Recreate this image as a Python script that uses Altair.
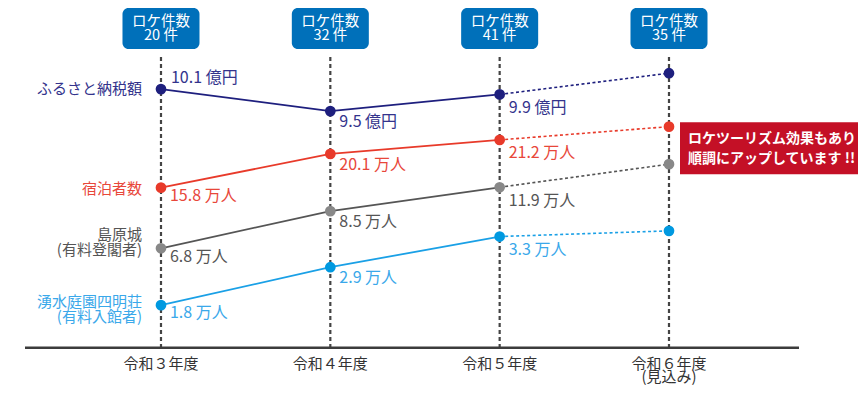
import altair as alt
import pandas as pd

# ---------------- data ----------------
years = ["令和３年度", "令和４年度", "令和５年度", "令和６年度"]
year_sub = ["", "", "", "(見込み)"]
loke_counts = [20, 32, 41, 35]

series = ["ふるさと納税額", "宿泊者数", "島原城", "湧水庭園四明荘"]
series_sub = ["", "", "(有料登閣者)", "(有料入館者)"]
units = ["億円", "万人", "万人", "万人"]

furusato_values = [10.1, 9.5, 9.9, None]
shukuhaku_values = [15.8, 20.1, 21.2, None]
shimabara_values = [6.8, 8.5, 11.9, None]
yusui_values = [1.8, 2.9, 3.3, None]

# schematic trend level of each point as drawn (0-100 index; no common value axis in the chart)
furusato_level = [78.6, 72.8, 77.2, 82.8]
shukuhaku_level = [52.6, 61.5, 65.2, 68.7]
shimabara_level = [36.6, 46.4, 52.7, 58.8]
yusui_level = [21.6, 31.6, 39.7, 41.2]

callout = ["ロケツーリズム効果もあり", "順調にアップしています !!"]

# ---------------- style ----------------
point_colors = ["#1e1f7e", "#e83a2a", "#888888", "#0099e0"]
line_colors = ["#1e1f7e", "#e83a2a", "#555555", "#1aa0e6"]
text_colors = ["#33338c", "#e8473a", "#555555", "#3aa8ea"]
FONT = "Noto Sans CJK JP"

values_all = [furusato_values, shukuhaku_values, shimabara_values, yusui_values]
levels_all = [furusato_level, shukuhaku_level, shimabara_level, yusui_level]

rows = []
for s, name in enumerate(series):
    for i in range(len(years)):
        v = values_all[s][i]
        rows.append({
            "series": name, "s": s, "idx": i, "level": levels_all[s][i],
            "label": "" if v is None else f"{v} {units[s]}",
            "pcolor": point_colors[s], "lcolor": line_colors[s], "tcolor": text_colors[s],
        })
df = pd.DataFrame(rows)
df_years = pd.DataFrame({
    "idx": list(range(len(years))),
    "year": [y + ("\n" + sb if sb else "") for y, sb in zip(years, year_sub)],
    "box": [f"ロケ件数\n{c} 件" for c in loke_counts],
})

XS = alt.Scale(domain=[-0.9035, 4.1162], nice=False, zero=False)
YS = alt.Scale(domain=[0, 100], nice=False, zero=False)
X = alt.X("idx:Q", scale=XS, axis=None)
Y = alt.Y("level:Q", scale=YS, axis=None)
TOP, BOTTOM = 87.07, 10.37

base = alt.Chart(df)
yb = alt.Chart(df_years)
one = alt.Chart(pd.DataFrame({"a": [0]}))

layers = []

# vertical dashed guides
layers.append(yb.transform_calculate(yt=f"{TOP}", ybot=f"{BOTTOM}").mark_rule(
    strokeDash=[4, 3], strokeWidth=2.2, color="#444444").encode(
    x=X, y=alt.Y("yt:Q", scale=YS, axis=None), y2="ybot:Q"))

# baseline
layers.append(one.mark_rule(color="#3c3c3c", strokeWidth=2.5).encode(
    x=alt.value(17), x2=alt.value(791), y=alt.value(339.7)))

# lines
layers.append(base.transform_filter("datum.idx <= 2").mark_line(strokeWidth=1.8).encode(
    x=X, y=Y, detail="series:N", color=alt.Color("lcolor:N", scale=None)))
layers.append(base.transform_filter("datum.idx >= 2").mark_line(strokeWidth=1.6, strokeDash=[3, 2.5]).encode(
    x=X, y=Y, detail="series:N", color=alt.Color("lcolor:N", scale=None)))

# points
layers.append(base.mark_circle(size=115, opacity=1).encode(
    x=X, y=Y, color=alt.Color("pcolor:N", scale=None)))

# value labels
col_dy = {0: 8.3, 1: 10.8, 2: 13.3}
for i, dy in col_dy.items():
    sub = base.transform_filter(f"datum.idx == {i} && datum.label != '' && !(datum.s == 0 && datum.idx == 0)")
    layers.append(sub.mark_text(align="left", baseline="middle", dx=9, dy=dy, fontSize=16, font=FONT).encode(
        x=X, y=Y, text="label:N", color=alt.Color("tcolor:N", scale=None)))
layers.append(base.transform_filter("datum.s == 0 && datum.idx == 0").mark_text(
    align="left", baseline="middle", dx=10, dy=-11, fontSize=16, font=FONT).encode(
    x=X, y=Y, text="label:N", color=alt.Color("tcolor:N", scale=None)))

# series names on the left (one text element each, multi-line where needed)
name_dy = [0, 1.5, -20.5, -10.2]
for s, name in enumerate(series):
    first = base.transform_filter(f"datum.s == {s} && datum.idx == 0")
    if series_sub[s]:
        layers.append(first.mark_text(align="right", baseline="top", dy=name_dy[s], fontSize=15, font=FONT,
                                      lineBreak="\n", lineHeight=15.5, color=text_colors[s]).encode(
            x=alt.value(134), y=Y, text=alt.value(name + "\n" + series_sub[s])))
    else:
        layers.append(first.mark_text(align="right", baseline="middle", dy=name_dy[s], fontSize=15, font=FONT,
                                      color=text_colors[s]).encode(
            x=alt.value(134), y=Y, text=alt.value(name)))

# year labels
layers.append(yb.mark_text(align="center", baseline="top", fontSize=15, font=FONT, color="#333333",
                           lineBreak="\n", lineHeight=13).encode(
    x=X, y=alt.value(349.4), text="year:N"))

# top boxes
layers.append(yb.transform_calculate(x1="datum.idx - 0.2274", x2="datum.idx + 0.2274").mark_rect(
    cornerRadius=6, color="#0070ba").encode(
    x=alt.X("x1:Q", scale=XS, axis=None), x2="x2:Q", y=alt.value(0), y2=alt.value(41)))
layers.append(yb.mark_text(align="center", baseline="top", fontSize=14.5, font=FONT, color="white",
                           lineBreak="\n", lineHeight=13.6).encode(
    x=X, y=alt.value(7.4), text="box:N"))

# callout
layers.append(one.mark_rect(color="#c41026").encode(
    x=alt.value(672), x2=alt.value(852), y=alt.value(114.3), y2=alt.value(166.3)))
layers.append(one.mark_text(align="left", baseline="top", fontSize=14, fontWeight="bold",
                            font=FONT, color="white", lineBreak="\n", lineHeight=20).encode(
    x=alt.value(680), y=alt.value(124.3), text=alt.value("\n".join(callout))))

chart = alt.layer(*layers).properties(
    width=850, height=379, padding=0, autosize=alt.AutoSizeParams(type="none"),
    background="white"
).configure_view(stroke=None)

chart.save("out.html", embed_options={"renderer": "svg", "actions": False})
